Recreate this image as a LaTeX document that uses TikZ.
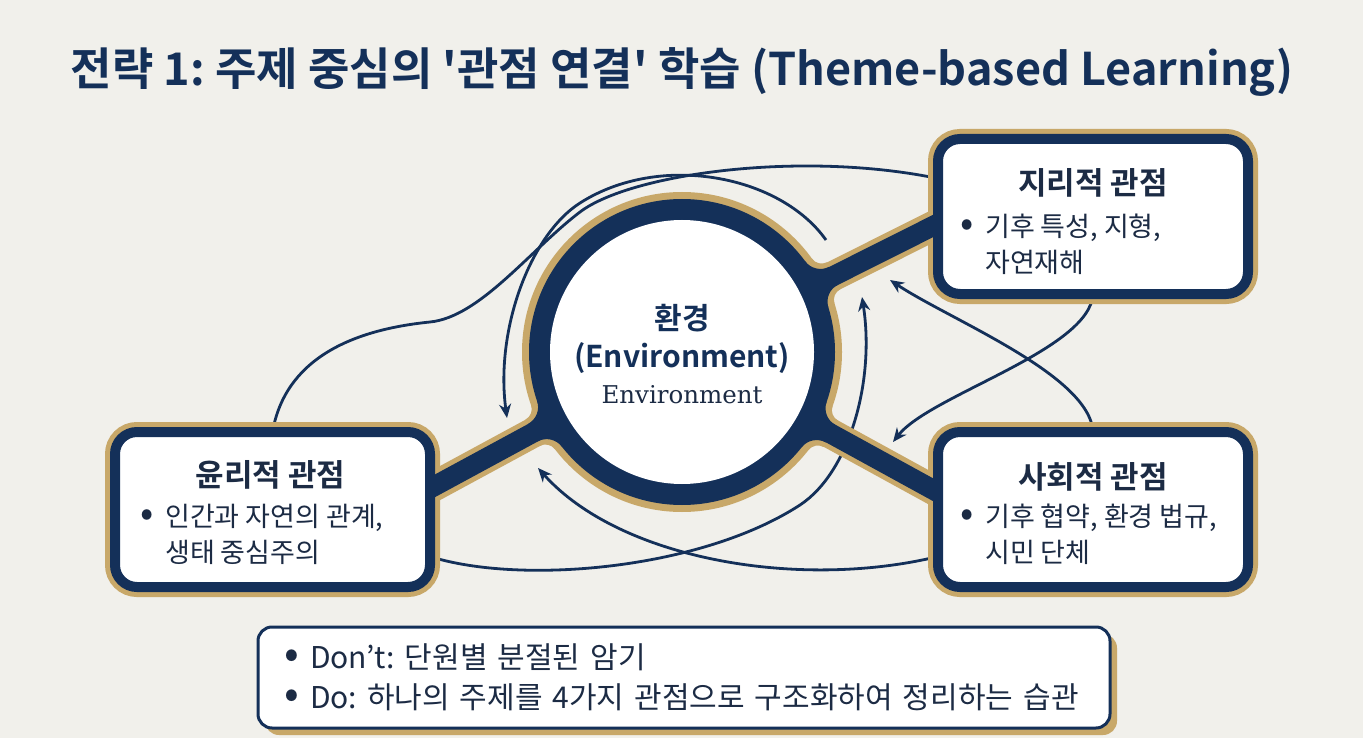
\documentclass[tikz,border=0pt]{standalone}
\usepackage{fontspec}
\setsansfont{Noto Sans CJK KR}[BoldFont={Noto Sans CJK KR Bold},Ligatures=TeXOff]
\newfontfamily\captionserif{DejaVu Serif}
\renewcommand{\familydefault}{\sfdefault}
\usepackage{tikz}
\usetikzlibrary{arrows.meta,calc,shadows}
\definecolor{paper}{HTML}{F1F0EB}
\definecolor{navy}{HTML}{143059}
\definecolor{gold}{HTML}{C8A869}
\definecolor{ink}{HTML}{1C2B44}
\pgfdeclarelayer{back}
\pgfdeclarelayer{mid}
\pgfsetlayers{back,mid,main}
\newcommand{\dotmark}{\scalebox{1.45}{•}}
\tikzset{panel/.style={draw=navy,line width=10pt,fill=white,rounded corners=22pt,
    minimum width=310pt,minimum height=155pt,inner sep=0pt,outer sep=0pt},
  panelhead/.style={font=\fontsize{31}{36}\selectfont\bfseries,text=ink},
  paneltext/.style={font=\fontsize{27}{36}\selectfont,text=ink,align=left,
    inner sep=0pt,anchor=north west},
  flow/.style={navy,line width=2.8pt,-{Stealth[length=14pt,width=12pt]}},
  notebox/.style={draw=navy,line width=3pt,fill=white,rounded corners=14pt,
    text width=800pt,align=left,inner xsep=26pt,minimum height=101pt,
    font=\fontsize{30}{40}\selectfont,text=ink,
    drop shadow={shadow xshift=7pt,shadow yshift=-7pt,fill=gold,opacity=1}}}
% concave fillets where the bars meet the ring
\newcommand{\hubfillet}[4]{%
  \pgfmathsetmacro{\fa}{asin((#2+#3)/(#1+#3))}%
  \foreach \ang in {26.7,-28.8,208.4}{
    \foreach \side in {1,-1}{
      \fill[#4,shift={(hub)},rotate=\ang,yscale=\side,x=1pt,y=1pt]
        (0,0) -- (\fa:#1) arc[start angle=180+\fa,end angle=270,radius=#3]
        -- ({(#1+#3)*cos(\fa)},0) -- cycle;
    }
  }
}

\begin{document}
\frenchspacing
\begin{tikzpicture}[x=1pt,y=-1pt]
  \useasboundingbox (0,0) rectangle (1363,738);
  \node[font=\fontsize{45}{54}\selectfont\bfseries,text=navy] (title) at (682,72)
    {전략 1: 주제 중심의 '관점 연결' 학습 (Theme-based Learning)};

  % hub
  \coordinate (hub) at (682,352);
  \node[font=\fontsize{30}{36}\selectfont\bfseries,text=navy] (hubKo) at ($(hub)+(0,-34)$) {환경};
  \node[font=\fontsize{30}{36}\selectfont\bfseries,text=navy] (hubEn) at ($(hub)+(0,6)$) {(Environment)};
  \node[font=\captionserif\fontsize{24.5}{30}\selectfont,text=ink] (hubRm) at ($(hub)+(0,43)$) {Environment};

  % the three viewpoints
  \node[panel] (geo) at (1093,216.5) {};
  \node[panel] (soc) at (1093,509.5) {};
  \node[panel,minimum width=315pt] (eth) at (272.5,509.5) {};
  \node[panelhead] (geoHead) at ($(geo.north)+(0,44)$) {지리적 관점};
  \node[panelhead] (socHead) at ($(soc.north)+(0,45)$) {사회적 관점};
  \node[panelhead] (ethHead) at ($(eth.north)+(-2,43)$) {윤리적 관점};
  \node[paneltext] (geoText) at ($(geo.north west)+(22,75)$)
    {\makebox[25pt][l]{\dotmark}기후 특성, 지형,\\\hspace*{25pt}자연재해};
  \node[paneltext] (socText) at ($(soc.north west)+(22,72)$)
    {\makebox[25pt][l]{\dotmark}기후 협약, 환경 법규,\\\hspace*{25pt}시민 단체};
  \node[paneltext] (ethText) at ($(eth.north west)+(25,72)$)
    {\makebox[25pt][l]{\dotmark}인간과 자연의 관계,\\\hspace*{25pt}생태 중심주의};

  \coordinate (geoEnd) at (950,217.5);
  \coordinate (socEnd) at (950,499);
  \coordinate (ethEnd) at (418,495);
  \coordinate (bStart) at (826,240);
  \coordinate (bTip) at (507,418);
  \coordinate (cTip) at (862,297);
  \coordinate (dTip) at (538,468);
  \coordinate (eTip) at (893,442);
  \coordinate (fTip) at (890,280);

  \node[notebox] (note) at (684,677.5)
    {\makebox[26pt][l]{\dotmark}Don’t: 단원별 분절된 암기\\
     \makebox[26pt][l]{\dotmark}Do: 하나의 주제를 4가지 관점으로 구조화하여 정리하는 습관};

  \begin{pgfonlayer}{back}
    \fill[paper] (0,0) rectangle (1363,738);
    % thin links
    \draw[flow,-] (eth.north) .. controls (285,360) and (350,330) .. (430,322)
      .. controls (480,317) and (530,250) .. (580,212)
      .. controls (630,174) and (800,150) .. ($(geo.west)+(0,-38)$);
    \draw[flow] (bStart) .. controls (780,175) and (660,152) .. (580,203)
      .. controls (530,235) and (495,330) .. (bTip);
    \draw[flow] ($(eth.east)+(0,47)$) .. controls (520,585) and (700,570) .. (800,505)
      .. controls (850,472) and (875,380) .. (cTip);
    \draw[flow] ($(soc.west)+(0,47)$) .. controls (800,590) and (620,560) .. (dTip);
    \draw[flow] (geo.south) .. controls (1090,350) and (930,395) .. (eTip);
    \draw[flow] (soc.north) .. controls (1090,375) and (950,320) .. (fTip);
    % gold rims
    \fill[gold] (hub) circle[radius=160];
    \foreach \e in {geoEnd,socEnd,ethEnd}
      \draw[gold,line width=30pt] (hub) -- (\e);
    \hubfillet{160}{15}{12}{gold}
    \foreach \b in {geo,soc,eth}
      \draw[gold,line width=20pt,rounded corners=22pt] (\b.north west) rectangle (\b.south east);
  \end{pgfonlayer}

  \begin{pgfonlayer}{mid}
    \fill[navy] (hub) circle[radius=153];
    \foreach \e in {geoEnd,socEnd,ethEnd}
      \draw[navy,line width=20pt] (hub) -- (\e);
    \hubfillet{153}{10}{19}{navy}
    \fill[white] (hub) circle[radius=132];
  \end{pgfonlayer}
\end{tikzpicture}
\end{document}
